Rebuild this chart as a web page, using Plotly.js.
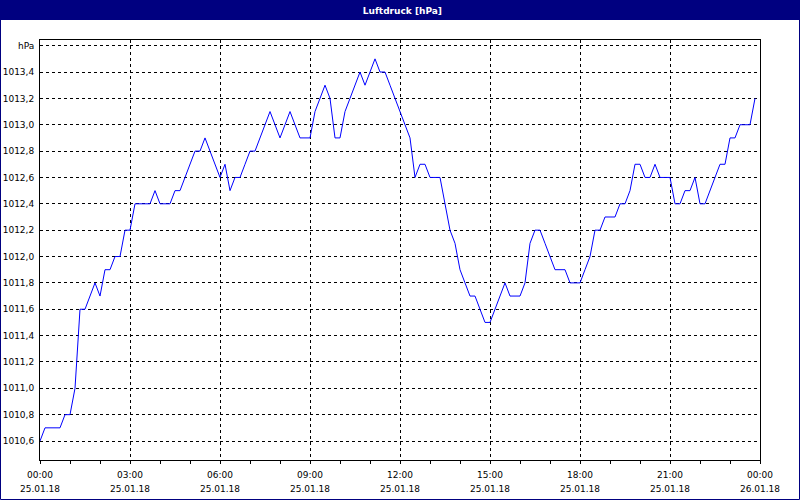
<!DOCTYPE html>
<html>
<head>
<meta charset="utf-8">
<script src="https://cdn.plot.ly/plotly-3.0.1.min.js"></script>
<style>
html,body{margin:0;padding:0;background:#fff;}
#chart{width:800px;height:500px;}
</style>
</head>
<body>
<div id="chart"></div>
<script>
// Sampling: every 10 minutes starting 25.01.18 00:00
const startTime = '2018-01-25 00:00';
const stepMs = 600000;

// Luftdruck [hPa], one value per 10 minutes
const pressure = [
  1010.6,1010.7,1010.7,1010.7,1010.7,1010.8,1010.8,1011.0,1011.6,1011.6,1011.7,1011.8,1011.7,1011.9,1011.9,1012.0,1012.0,1012.2,
  1012.2,1012.4,1012.4,1012.4,1012.4,1012.5,1012.4,1012.4,1012.4,1012.5,1012.5,1012.6,1012.7,1012.8,1012.8,1012.9,1012.8,1012.7,
  1012.6,1012.7,1012.5,1012.6,1012.6,1012.7,1012.8,1012.8,1012.9,1013.0,1013.1,1013.0,1012.9,1013.0,1013.1,1013.0,1012.9,1012.9,
  1012.9,1013.1,1013.2,1013.3,1013.2,1012.9,1012.9,1013.1,1013.2,1013.3,1013.4,1013.3,1013.4,1013.5,1013.4,1013.4,1013.3,1013.2,
  1013.1,1013.0,1012.9,1012.6,1012.7,1012.7,1012.6,1012.6,1012.6,1012.4,1012.2,1012.1,1011.9,1011.8,1011.7,1011.7,1011.6,1011.5,
  1011.5,1011.6,1011.7,1011.8,1011.7,1011.7,1011.7,1011.8,1012.1,1012.2,1012.2,1012.1,1012.0,1011.9,1011.9,1011.9,1011.8,1011.8,
  1011.8,1011.9,1012.0,1012.2,1012.2,1012.3,1012.3,1012.3,1012.4,1012.4,1012.5,1012.7,1012.7,1012.6,1012.6,1012.7,1012.6,1012.6,
  1012.6,1012.4,1012.4,1012.5,1012.5,1012.6,1012.4,1012.4,1012.5,1012.6,1012.7,1012.7,1012.9,1012.9,1013.0,1013.0,1013.0,1013.2
];

// X ticks
const xTickVals = ['2018-01-25 00:00','2018-01-25 03:00','2018-01-25 06:00','2018-01-25 09:00',
  '2018-01-25 12:00','2018-01-25 15:00','2018-01-25 18:00','2018-01-25 21:00','2018-01-26 00:00'];
const timeLabels = ['00:00','03:00','06:00','09:00','12:00','15:00','18:00','21:00','00:00'];
const dateLabels = ['25.01.18','25.01.18','25.01.18','25.01.18','25.01.18','25.01.18','25.01.18','25.01.18','26.01.18'];
const xRange = ['2018-01-25 00:00','2018-01-26 00:00'];

// Y ticks
const yTickVals = [1010.6,1010.8,1011.0,1011.2,1011.4,1011.6,1011.8,1012.0,1012.2,1012.4,1012.6,1012.8,1013.0,1013.2,1013.4,1013.6];
const yTickText = ['1010,6','1010,8','1011,0','1011,2','1011,4','1011,6','1011,8','1012,0','1012,2','1012,4','1012,6','1012,8','1013,0','1013,2','1013,4','hPa'];
const yRange = [1010.456, 1013.643];

const FONT = 'DejaVu Sans, Verdana, sans-serif';
const TICKSIZE = 9;
const PW = 720, PH = 420, ML = 40, MT = 40;
const px2x = p => (p - ML) / PW;
const py2y = p => (MT + PH - p) / PH;

const traces = [
  {type:'scatter', mode:'lines', x0:startTime, dx:stepMs, y:pressure,
   line:{color:'#0000ff', width:1, shape:'linear'}, hoverinfo:'skip', showlegend:false},
  {type:'scatter', mode:'lines', x0:startTime, dx:stepMs, y:pressure, xaxis:'x2', yaxis:'y',
   line:{color:'rgba(0,0,0,0)', width:0}, hoverinfo:'skip', showlegend:false}
];

const layout = {
  width:800, height:500,
  margin:{l:ML, r:40, t:MT, b:40, pad:0},
  paper_bgcolor:'#ffffff', plot_bgcolor:'#ffffff',
  font:{family:FONT, size:TICKSIZE, color:'#000000'},
  showlegend:false,
  title:{text:'<b>Luftdruck [hPa]</b>', font:{family:FONT, size:9, color:'#ffffff'},
    xref:'container', x:0.503, xanchor:'center', yref:'container', y:1-10.5/500, yanchor:'middle'},
  xaxis:{type:'date', range:xRange, tickvals:xTickVals, ticktext:timeLabels,
    showgrid:true, gridcolor:'#000000', gridwidth:1, griddash:'3px,3px',
    showline:true, linecolor:'#000000', linewidth:1, mirror:true, zeroline:false,
    ticks:'outside', ticklen:3, tickcolor:'#000000', tickwidth:1, ticklabelstandoff:3,
    tickfont:{family:FONT, size:TICKSIZE, color:'#000000'},
    minor:{dtick:3600000, ticks:'outside', ticklen:3, tickcolor:'#000000', showgrid:false}},
  xaxis2:{type:'date', range:xRange, overlaying:'x', anchor:'y', side:'bottom',
    tickvals:xTickVals, ticktext:dateLabels, showgrid:false, showline:false, zeroline:false,
    ticks:'', ticklabelstandoff:22, tickfont:{family:FONT, size:TICKSIZE, color:'#000000'}},
  yaxis:{range:yRange, tickvals:yTickVals, ticktext:yTickText,
    showgrid:true, gridcolor:'#000000', gridwidth:1, griddash:'3px,3px',
    showline:true, linecolor:'#000000', linewidth:1, mirror:true, zeroline:false,
    ticks:'', ticklabelstandoff:3, tickfont:{family:FONT, size:TICKSIZE, color:'#000000'}},
  shapes:[
    {type:'rect', xref:'paper', yref:'paper', layer:'below',
     x0:px2x(0), x1:px2x(800), y0:py2y(20), y1:py2y(0),
     fillcolor:'#000080', line:{width:0}},
    {type:'rect', xref:'paper', yref:'paper', layer:'above',
     x0:px2x(0.5), x1:px2x(799.5), y0:py2y(499.5), y1:py2y(0.5),
     fillcolor:'rgba(0,0,0,0)', line:{color:'#000080', width:1}}
  ]
};

Plotly.newPlot('chart', traces, layout, {displayModeBar:false, staticPlot:true});
</script>
</body>
</html>
